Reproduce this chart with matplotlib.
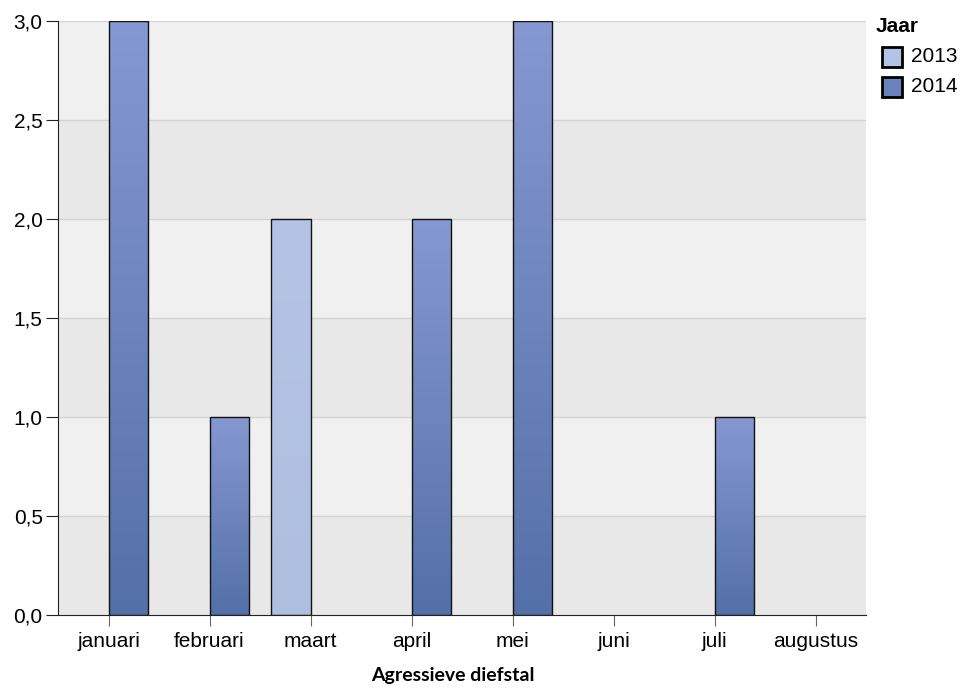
import numpy as np
import matplotlib as mpl
mpl.use('Agg')
import matplotlib.pyplot as plt
from matplotlib.patches import Rectangle
from matplotlib.colors import LinearSegmentedColormap

months = ['januari', 'februari', 'maart', 'april', 'mei', 'juni', 'juli', 'augustus']
vals_2013 = [0, 0, 2, 0, 0, 0, 0, 0]
vals_2014 = [3, 1, 0, 2, 3, 0, 1, 0]
years = ['2013', '2014']

plt.rcParams['font.family'] = ['Liberation Sans', 'DejaVu Sans']

fig = plt.figure(figsize=(9.64, 6.88), dpi=100)
ax = fig.add_axes([58/964, 1-615/688, (866-58)/964, (615-21)/688])

x = np.arange(len(months))
w = 0.396

# alternating background bands + grid
for i in range(6):
    lo = i*0.5
    ax.axhspan(lo, lo+0.5, color='#e8e8e8' if i % 2 == 0 else '#f0f0f0', zorder=0, lw=0)
for yv in np.arange(0.5, 3.01, 0.5):
    ax.axhline(yv, color='#d4d4d4', lw=1, zorder=1)

cmap13 = LinearSegmentedColormap.from_list('c13', ['#afbfe0', '#b5c4e6'])
cmap14 = LinearSegmentedColormap.from_list('c14', ['#5470a8', '#8698d1'])
grad = np.linspace(0, 1, 256).reshape(-1, 1)

def gbar(xs, vals, cmap):
    bars = ax.bar(xs, vals, width=w, align='edge', facecolor='none',
                  edgecolor='#111111', lw=1, zorder=3)
    for b, v in zip(bars, vals):
        if v <= 0:
            b.set_visible(False)
            continue
        x0 = b.get_x()
        im = ax.imshow(grad, cmap=cmap, origin='lower', aspect='auto',
                       extent=[x0, x0+w, 0, v], zorder=2)
        im.set_clip_path(b)
    return bars

gbar(x - w, vals_2013, cmap13)
gbar(x, vals_2014, cmap14)

ax.set_xlim(-0.5, len(months)-0.5)
ax.set_ylim(0, 3.0)
ax.set_xticks(x)
ax.set_xticklabels(months, fontsize=15)
ax.set_yticks(np.arange(0, 3.01, 0.5))
ax.yaxis.set_major_formatter(plt.FuncFormatter(lambda v, p: '{:.1f}'.format(v).replace('.', ',')))
ax.tick_params(axis='y', labelsize=15, length=9, color='#222222', pad=2)
ax.tick_params(axis='x', length=8, color='#666666', pad=4)

for s in ['top', 'right']:
    ax.spines[s].set_visible(False)
ax.spines['left'].set_color('#222222')
ax.spines['bottom'].set_color('#222222')

ax.set_xlabel('Agressieve diefstal', fontsize=14, fontweight='bold',
              family=['Lato', 'DejaVu Sans'], va='center')
ax.xaxis.set_label_coords((453-58)/808, (615-676)/594)

# legend
fig.text(876/964, 1-26/688, 'Jaar', fontsize=15, fontweight='bold', va='center')
for i, (yr, c) in enumerate(zip(years, ['#b3c3e4', '#6a82bd'])):
    yc = 1-(57+i*30)/688
    fig.patches.append(Rectangle((882/964, yc-9.5/688), 20/964, 19/688, transform=fig.transFigure,
                                 facecolor=c, edgecolor='black', lw=2))
    fig.text(911/964, yc, yr, fontsize=15, va='center')

fig.savefig('out.png', dpi=100)
